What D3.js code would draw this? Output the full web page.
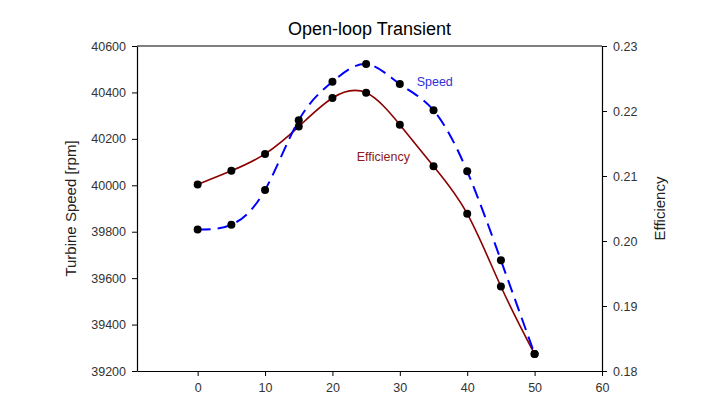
<!DOCTYPE html>
<html>
<head>
<meta charset="utf-8">
<script src="https://cdn.jsdelivr.net/npm/d3@7"></script>
<style>
  body { margin: 0; background: #fff; }
  svg { font-family: Arial, 'Liberation Sans', sans-serif; }
</style>
</head>
<body>
<svg id="chart" width="728" height="409"></svg>
<script>
// time values (x)
const times = [0, 5, 10, 15, 20, 25, 30, 35, 40, 45, 50];
// turbine speed [rpm], left axis
const speed = [39810, 39830, 39980, 40280, 40446, 40522, 40436, 40323, 40060, 39677, 39273];
// efficiency, right axis
const efficiency = [0.2087, 0.2108, 0.2134, 0.2176, 0.2220, 0.2228, 0.2179, 0.2115, 0.2042, 0.1930, 0.1826];

const xTicks = [0, 10, 20, 30, 40, 50, 60];
const leftTicks = [39200, 39400, 39600, 39800, 40000, 40200, 40400, 40600];
const rightTicks = [0.18, 0.19, 0.20, 0.21, 0.22, 0.23];

const box = { left: 137, right: 602, top: 46, bottom: 371 };

const svg = d3.select('#chart');

const x = d3.scaleLinear().domain([-9, 60]).range([box.left, box.right]);
const yL = d3.scaleLinear().domain([39200, 40600]).range([box.bottom, box.top]);
const yR = d3.scaleLinear().domain([0.18, 0.23]).range([box.bottom, box.top]);

// frame: top line
svg.append('line')
  .attr('x1', box.left).attr('x2', box.right)
  .attr('y1', box.top).attr('y2', box.top)
  .attr('stroke', '#000').attr('stroke-width', 1.2);

const styleAxis = g => {
  g.select('.domain').attr('stroke', '#000').attr('stroke-width', 1.2);
  g.selectAll('.tick line').attr('stroke', '#000');
  g.selectAll('.tick text').attr('fill', '#333').style('font-size', '12.5px');
};

svg.append('g')
  .attr('transform', `translate(0,${box.bottom})`)
  .call(d3.axisBottom(x).tickValues(xTicks).tickSize(5).tickSizeOuter(0).tickPadding(7))
  .call(styleAxis);

svg.append('g')
  .attr('transform', `translate(${box.left},0)`)
  .call(d3.axisLeft(yL).tickValues(leftTicks).tickSize(5).tickSizeOuter(0).tickPadding(6).tickFormat(d3.format('d')))
  .call(styleAxis);

svg.append('g')
  .attr('transform', `translate(${box.right},0)`)
  .call(d3.axisRight(yR).tickValues(rightTicks).tickSize(5).tickSizeOuter(0).tickPadding(6).tickFormat(d3.format('.2f')))
  .call(styleAxis);

// titles
svg.append('text')
  .attr('x', (box.left + box.right) / 2).attr('y', 35)
  .attr('text-anchor', 'middle')
  .style('font-size', '18px')
  .attr('fill', '#000')
  .text('Open-loop Transient');

svg.append('text')
  .attr('transform', `translate(76, ${(box.top + box.bottom) / 2}) rotate(-90)`)
  .attr('text-anchor', 'middle')
  .style('font-size', '15px')
  .attr('fill', '#222')
  .text('Turbine Speed [rpm]');

svg.append('text')
  .attr('transform', `translate(665, ${(box.top + box.bottom) / 2}) rotate(-90)`)
  .attr('text-anchor', 'middle')
  .style('font-size', '15px')
  .attr('fill', '#222')
  .text('Efficiency');

// curves
const effLine = d3.line()
  .curve(d3.curveNatural)
  .x((d, i) => x(times[i]))
  .y(d => yR(d));

const speedLine = d3.line()
  .curve(d3.curveNatural)
  .x((d, i) => x(times[i]))
  .y(d => yL(d));

svg.append('path')
  .attr('d', effLine(efficiency))
  .attr('fill', 'none')
  .attr('stroke', '#8b0000')
  .attr('stroke-width', 1.6);

svg.append('path')
  .attr('d', speedLine(speed))
  .attr('fill', 'none')
  .attr('stroke', '#0000ff')
  .attr('stroke-width', 2)
  .attr('stroke-dasharray', '13,7');

// markers
svg.append('g').selectAll('circle')
  .data(efficiency)
  .join('circle')
  .attr('cx', (d, i) => x(times[i]))
  .attr('cy', d => yR(d))
  .attr('r', 4)
  .attr('fill', '#000');

svg.append('g').selectAll('circle')
  .data(speed)
  .join('circle')
  .attr('cx', (d, i) => x(times[i]))
  .attr('cy', d => yL(d))
  .attr('r', 4)
  .attr('fill', '#000');

// series labels
svg.append('text')
  .attr('x', x(32.5)).attr('y', yL(40428))
  .style('font-size', '12.5px')
  .attr('fill', '#3030d8')
  .text('Speed');

svg.append('text')
  .attr('x', x(23.6)).attr('y', yR(0.2123))
  .style('font-size', '12.5px')
  .attr('fill', '#8b1a1a')
  .text('Efficiency');
</script>
</body>
</html>
